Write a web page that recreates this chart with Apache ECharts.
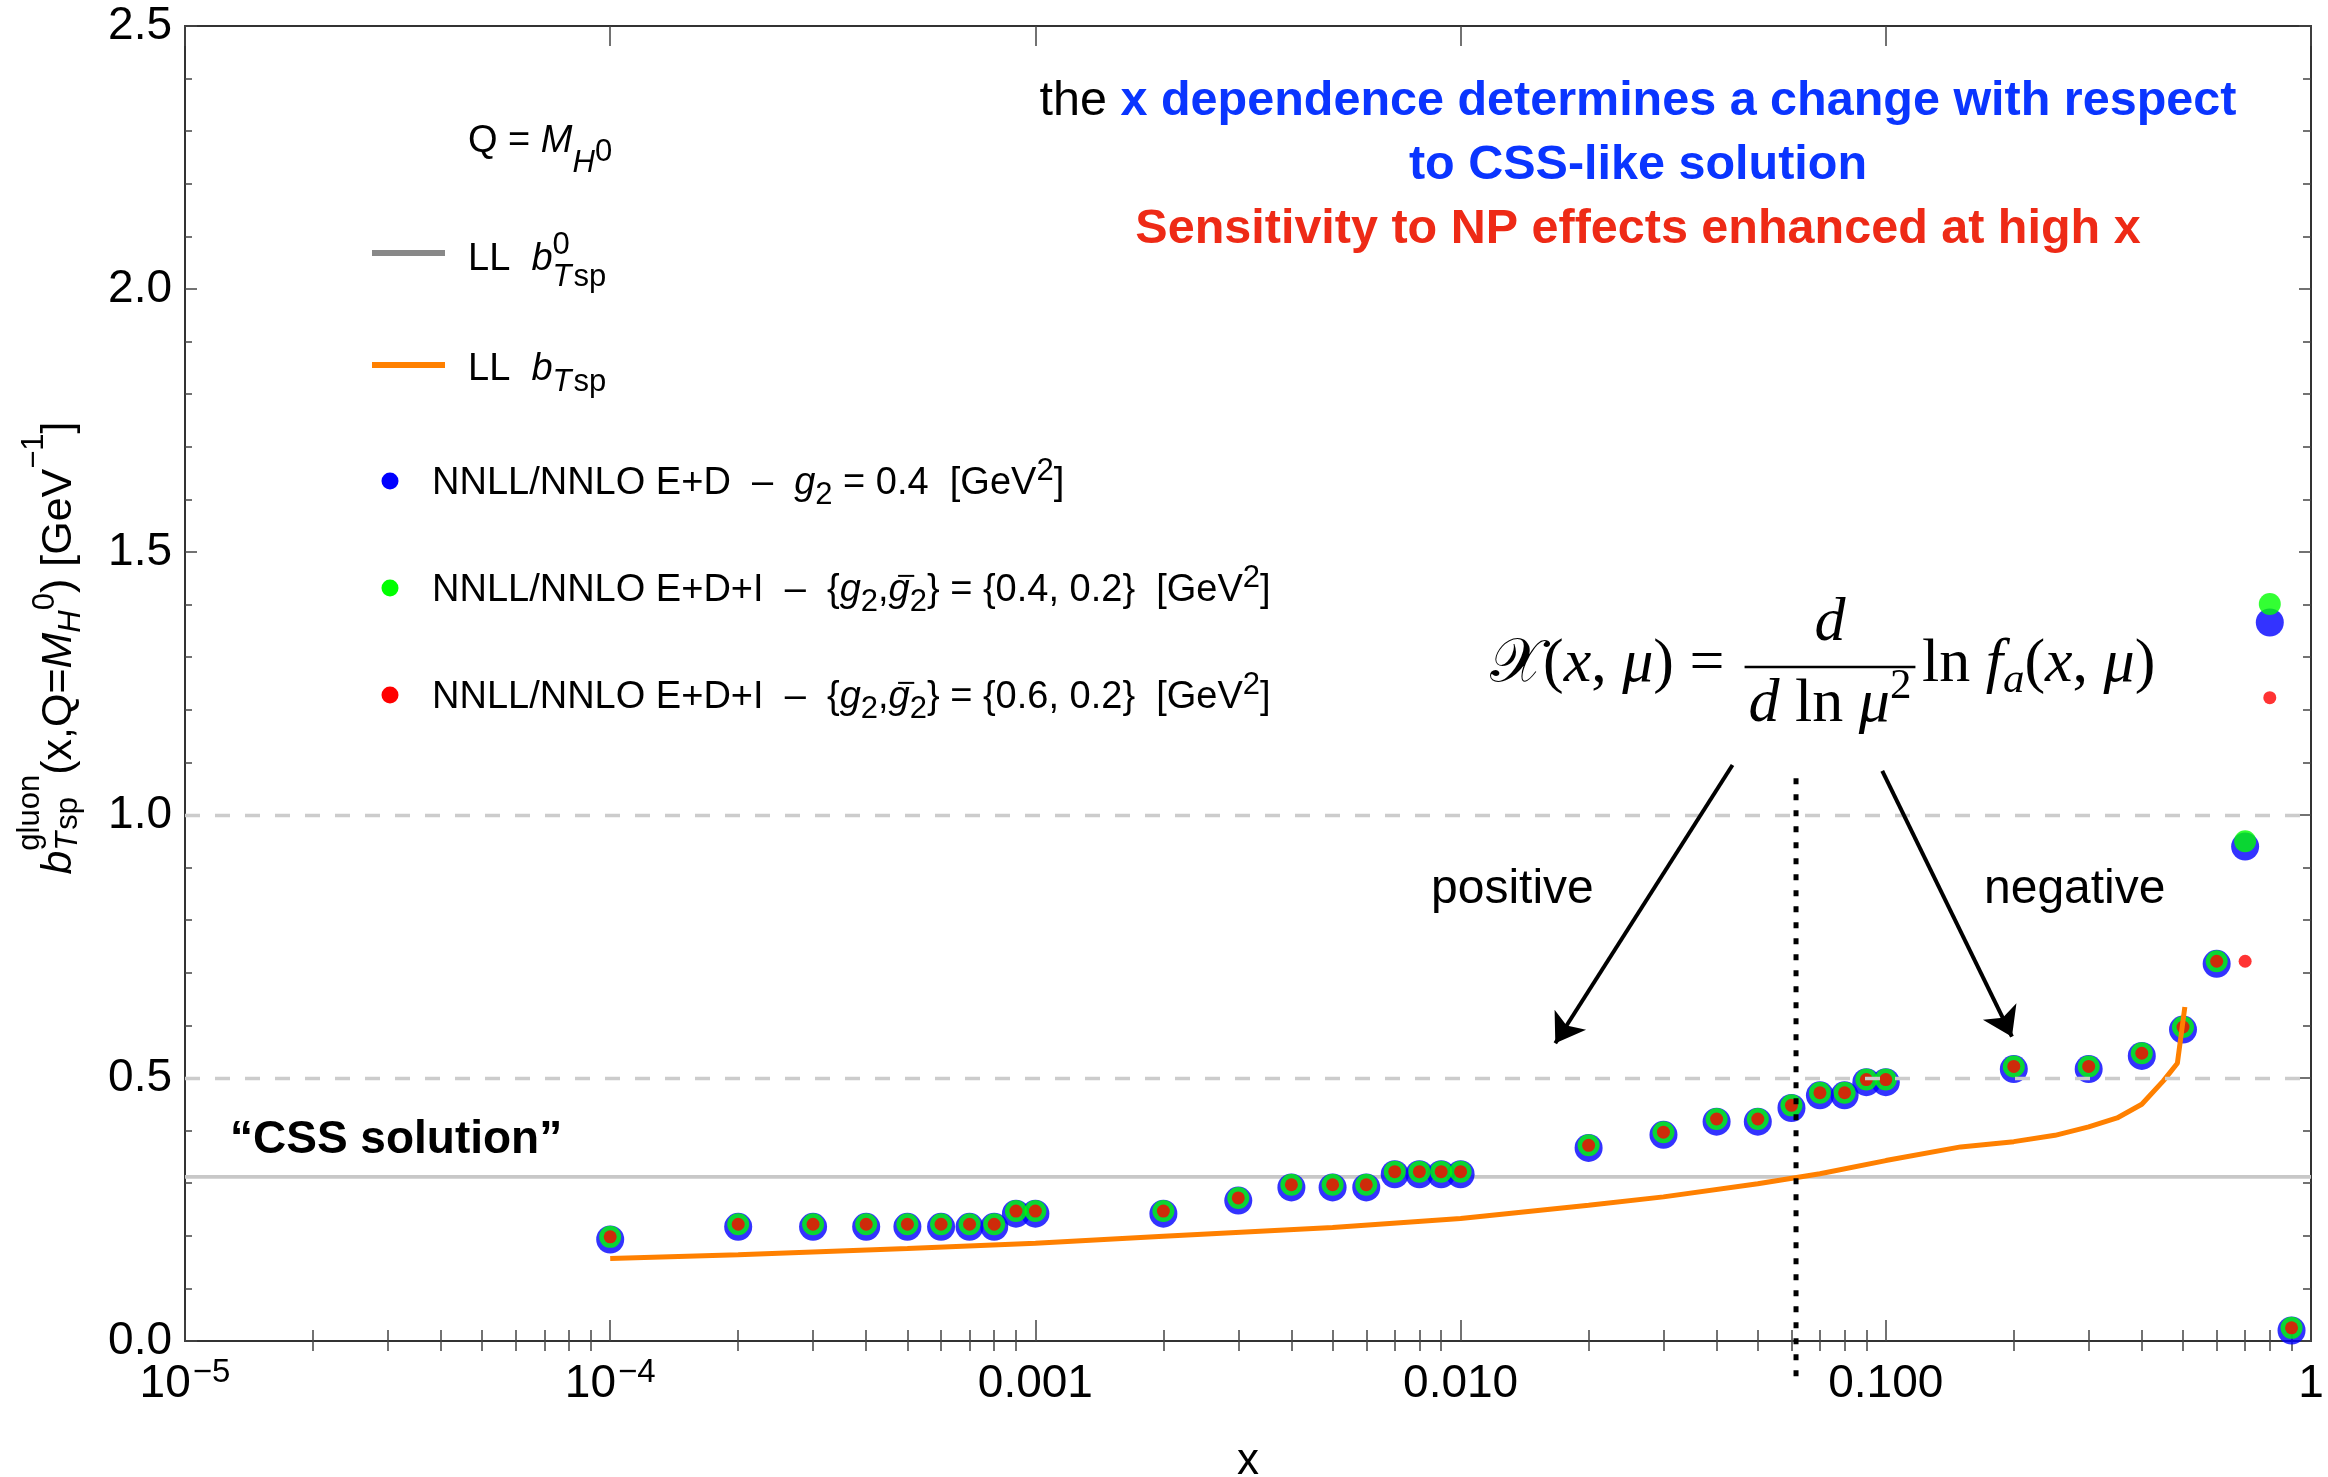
<!DOCTYPE html>
<html>
<head>
<meta charset="utf-8">
<title>b_Tsp gluon vs x</title>
<script src="https://cdn.jsdelivr.net/npm/echarts@6/dist/echarts.min.js"></script>
<style>
  html, body { margin: 0; padding: 0; background: #fff; }
  #chart { width: 2328px; height: 1477px; }
</style>
</head>
<body>
<div id="chart"></div>
<script>
// ---- data -------------------------------------------------------------
// x grid of the NNLL/NNLO evaluations
const xPoints = [1e-4, 2e-4, 3e-4, 4e-4, 5e-4, 6e-4, 7e-4, 8e-4, 9e-4,
                 1e-3, 2e-3, 3e-3, 4e-3, 5e-3, 6e-3, 7e-3, 8e-3, 9e-3,
                 0.01, 0.02, 0.03, 0.04, 0.05, 0.06, 0.07, 0.08, 0.09,
                 0.1, 0.2, 0.3, 0.4, 0.5, 0.6, 0.7, 0.8, 0.9];
// NNLL/NNLO E+D, g2 = 0.4
const bluePoints = [0.193, 0.217, 0.217, 0.217, 0.217, 0.217, 0.217, 0.217, 0.242,
                    0.242, 0.242, 0.267, 0.292, 0.292, 0.292, 0.317, 0.317, 0.317,
                    0.317, 0.367, 0.392, 0.417, 0.417, 0.443, 0.467, 0.467, 0.492,
                    0.492, 0.517, 0.517, 0.542, 0.592, 0.717, 0.940, 1.366, 0.020];
// NNLL/NNLO E+D+I, {g2, g2bar} = {0.4, 0.2}
const greenPoints = [0.198, 0.222, 0.222, 0.222, 0.222, 0.222, 0.222, 0.222, 0.247,
                     0.247, 0.247, 0.272, 0.297, 0.297, 0.297, 0.322, 0.322, 0.322,
                     0.322, 0.372, 0.397, 0.422, 0.422, 0.448, 0.472, 0.472, 0.497,
                     0.497, 0.522, 0.522, 0.547, 0.597, 0.722, 0.950, 1.401, 0.025];
// NNLL/NNLO E+D+I, {g2, g2bar} = {0.6, 0.2}
const redPoints = [0.198, 0.222, 0.222, 0.222, 0.222, 0.222, 0.222, 0.222, 0.247,
                   0.247, 0.247, 0.272, 0.297, 0.297, 0.297, 0.322, 0.322, 0.322,
                   0.322, 0.372, 0.397, 0.422, 0.422, 0.448, 0.472, 0.472, 0.497,
                   0.497, 0.522, 0.522, 0.547, 0.597, 0.722, 0.722, 1.223, 0.025];
// LL b_Tsp curve
const llX = [1e-4, 2e-4, 5e-4, 1e-3, 2e-3, 5e-3, 0.01, 0.02, 0.03, 0.05, 0.07,
             0.1, 0.15, 0.2, 0.25, 0.3, 0.35, 0.4, 0.45, 0.485, 0.505];
const llY = [0.157, 0.164, 0.176, 0.186, 0.199, 0.216, 0.233, 0.258, 0.274, 0.299, 0.318,
             0.343, 0.369, 0.379, 0.391, 0.407, 0.424, 0.450, 0.495, 0.528, 0.635];
// LL b0_Tsp ("CSS solution") level and reference levels
const cssValue = 0.312;
const refLevels = [0.5, 1.0];
// x where b_Tsp crosses b0_Tsp, and the vertical extent of its marker line
const crossX = 0.0615;
const crossSpan = [-0.08, 1.07];
// arrows: [start, tip] in data coordinates
const arrowPositive = [[0.0436, 1.095], [0.0167, 0.566]];
const arrowNegative = [[0.0981, 1.084], [0.198, 0.5785]];

// axis ticks
const xMajorTicks = [1e-5, 1e-4, 1e-3, 1e-2, 1e-1, 1];
const xTickLabels = ['10^\u22125', '10^\u22124', '0.001', '0.010', '0.100', '1'];
const xMinorTicks = [];
for (let e = -5; e < 0; e++) for (let m = 2; m <= 9; m++) xMinorTicks.push(m * Math.pow(10, e));
const yTickLabels = ['0.0', '0.5', '1.0', '1.5', '2.0', '2.5'];

// ---- styling helpers ---------------------------------------------------
const SANS = "'Liberation Sans', Arial, Helvetica, sans-serif";
const SERIF = "'Liberation Serif', 'Times New Roman', serif";
const BLUE_TXT = '#0a35ff';
const RED_TXT = '#ee2a16';

const mctx = document.createElement('canvas').getContext('2d');
function fontOf(r) { return (r.it ? 'italic ' : '') + (r.b ? 'bold ' : '') + r.s + 'px ' + r.f; }
function measure(r) { mctx.font = fontOf(r); return mctx.measureText(r.t).width; }

// Lays out a run of text pieces on a common baseline (with sub/superscripts).
function mathText(runs, opt) {
  const base = { s: opt.s || 37, f: opt.f || SANS, c: opt.c || '#000', b: !!opt.b, it: false };
  const items = [];
  let pen = 0;
  const put = (list, start) => {
    let w = 0;
    list.forEach(r0 => {
      const r = Object.assign({}, base, r0);
      w += r.gap || 0;
      const tw = measure(r);
      items.push({ r, x: start + w, w: tw });
      w += tw;
    });
    return w;
  };
  runs.forEach(r => {
    if (r.up || r.dn) {
      pen += Math.max(r.up ? put(r.up, pen) : 0, r.dn ? put(r.dn, pen) : 0);
    } else {
      pen += put([r], pen);
    }
  });
  const shift = opt.align === 'center' ? -pen / 2 : (opt.align === 'right' ? -pen : 0);
  const out = [];
  items.forEach(({ r, x, w }) => {
    const bx = opt.x + shift + x;
    const by = opt.y + (r.dy || 0);
    out.push({
      type: 'text', silent: true, z: 100,
      style: {
        text: r.t, x: bx, y: by - 0.345 * r.s, font: fontOf(r), fill: r.c,
        align: 'left', textAlign: 'left', verticalAlign: 'middle', textVerticalAlign: 'middle'
      }
    });
    if (r.bar) {
      out.push({
        type: 'line', silent: true, z: 100,
        shape: { x1: bx + 0.25 * r.s, y1: by - 0.74 * r.s, x2: bx + w + 0.12 * r.s, y2: by - 0.74 * r.s },
        style: { stroke: r.c, lineWidth: 2 }
      });
    }
  });
  out.width = pen;
  return out;
}

function fmtX(v) {
  const i = xMajorTicks.findIndex(t => Math.abs(Math.log10(t) - Math.log10(v)) < 1e-6);
  const s = i >= 0 ? xTickLabels[i] : '';
  const p = s.split('^');
  return p.length > 1 ? '{n|' + p[0] + '}{s|' + p[1] + '}' : '{n|' + s + '}';
}

const axisLineStyle = { color: '#333', width: 2 };
const tickStyle = { color: '#444', width: 1.5 };

function logAxis(extra) {
  return Object.assign({
    type: 'log', logBase: 10, min: 1e-5, max: 1,
    splitLine: { show: false }, minorTick: { show: false }, axisLabel: { show: false },
    axisLine: { show: false }
  }, extra);
}

// ---- chart ---------------------------------------------------------------
const chart = echarts.init(document.getElementById('chart'), null, { renderer: 'canvas' });

const option = {
  animation: false,
  backgroundColor: '#ffffff',
  grid: { left: 185, right: 17, top: 26, bottom: 136, containLabel: false, outerBoundsMode: 'none' },
  xAxis: [
    logAxis({
      position: 'bottom',
      axisLine: { show: true, onZero: false, lineStyle: axisLineStyle },
      axisTick: { show: true, inside: true, length: 21, customValues: xMajorTicks, lineStyle: tickStyle },
      axisLabel: {
        show: true, customValues: xMajorTicks, margin: 15, formatter: fmtX,
        rich: {
          n: { fontSize: 46, lineHeight: 56, fontFamily: SANS, color: '#000' },
          s: { fontSize: 33, lineHeight: 33, fontFamily: SANS, color: '#000', verticalAlign: 'top', padding: [0, 0, 0, 2] }
        }
      },
      name: 'x', nameLocation: 'middle', nameGap: 99,
      nameTextStyle: { fontSize: 44, fontFamily: SANS, color: '#000' }
    }),
    logAxis({
      position: 'bottom',
      axisTick: { show: true, inside: true, length: 11, customValues: xMinorTicks, lineStyle: tickStyle }
    }),
    logAxis({
      position: 'top',
      axisLine: { show: true, onZero: false, lineStyle: axisLineStyle },
      axisTick: { show: true, inside: true, length: 20, customValues: xMajorTicks, lineStyle: tickStyle }
    }),
    logAxis({
      position: 'top',
      axisTick: { show: true, inside: true, length: 10, customValues: xMinorTicks, lineStyle: tickStyle }
    })
  ],
  yAxis: [
    {
      type: 'value', min: 0, max: 2.5, interval: 0.5, position: 'left',
      axisLine: { show: true, onZero: false, lineStyle: axisLineStyle },
      axisTick: { show: true, inside: true, length: 12, lineStyle: tickStyle },
      minorTick: { show: true, splitNumber: 5, length: 7, lineStyle: tickStyle },
      axisLabel: {
        margin: 13, fontSize: 46, fontFamily: SANS, color: '#000', padding: [6, 0, 0, 0],
        formatter: v => yTickLabels[Math.round(v / 0.5)]
      },
      splitLine: { show: false }
    },
    {
      type: 'value', min: 0, max: 2.5, interval: 0.5, position: 'right',
      axisLine: { show: true, onZero: false, lineStyle: axisLineStyle },
      axisTick: { show: true, inside: true, length: 12, lineStyle: tickStyle },
      minorTick: { show: true, splitNumber: 5, length: 8, lineStyle: tickStyle },
      axisLabel: { show: false },
      splitLine: { show: false }
    }
  ],
  series: [
    {
      name: 'LL b0_Tsp', type: 'line', silent: true, z: 1,
      data: [[1e-5, cssValue], [1, cssValue]],
      symbol: 'none', lineStyle: { color: '#c8c8c8', width: 3.7 },
      markLine: {
        silent: true, symbol: 'none', label: { show: false },
        lineStyle: { color: '#cccccc', width: 3.3, type: [15, 15] },
        data: refLevels.map(v => ({ yAxis: v }))
      }
    },
    {
      name: 'NNLL/NNLO E+D', type: 'scatter', z: 2, symbol: 'circle', symbolSize: 28,
      itemStyle: { color: '#0000ff' },
      data: xPoints.map((x, i) => [x, bluePoints[i]])
    },
    {
      name: 'NNLL/NNLO E+D+I (0.4, 0.2)', type: 'scatter', z: 2, symbol: 'circle', symbolSize: 22,
      itemStyle: { color: '#00ff00' },
      data: xPoints.map((x, i) => [x, greenPoints[i]])
    },
    {
      name: 'NNLL/NNLO E+D+I (0.6, 0.2)', type: 'scatter', z: 2, symbol: 'circle', symbolSize: 13,
      itemStyle: { color: '#ff0000' },
      data: xPoints.map((x, i) => [x, redPoints[i]])
    },
    {
      name: 'LL b_Tsp', type: 'line', z: 3, symbol: 'none', silent: true,
      lineStyle: { color: '#ff8000', width: 5 },
      data: llX.map((x, i) => [x, llY[i]])
    },
    {
      name: 'crossing', type: 'line', z: 4, symbol: 'none', silent: true, clip: false,
      lineStyle: { color: '#000', width: 5, type: [6, 10] },
      data: [[crossX, crossSpan[1]], [crossX, crossSpan[0]]],
      markLine: {
        silent: true, symbol: ['none', 'arrow'], symbolSize: 28, label: { show: false },
        lineStyle: { color: '#000', width: 4, type: 'solid' },
        data: [
          [{ coord: arrowPositive[0] }, { coord: arrowPositive[1] }],
          [{ coord: arrowNegative[0] }, { coord: arrowNegative[1] }]
        ]
      }
    }
  ]
};

chart.setOption(option);

// ---- annotations, legend and axis title -----------------------------------
const g = [];
const add = arr => arr.forEach(e => g.push(e));

// headline notes
add(mathText([{ t: 'the ' }, { t: 'x dependence determines a change with respect', c: BLUE_TXT, b: true }],
  { x: 1638, y: 118, align: 'center', s: 48.5 }));
add(mathText([{ t: 'to CSS-like solution', c: BLUE_TXT, b: true }], { x: 1638, y: 182, align: 'center', s: 48.5 }));
add(mathText([{ t: 'Sensitivity to NP effects enhanced at high x', c: RED_TXT, b: true }],
  { x: 1638, y: 246, align: 'center', s: 48.5 }));

add(mathText([{ t: '\u201CCSS solution\u201D', b: true }], { x: 230, y: 1156, s: 46 }));
add(mathText([{ t: 'positive' }], { x: 1431, y: 906, s: 48 }));
add(mathText([{ t: 'negative' }], { x: 1984, y: 906, s: 48 }));

// formula X(x,mu) = d/dln mu^2 ln f_a(x,mu)
const FS = 62;
add(mathText([{ t: '\uD835\uDCB3' }, { t: '(' }, { t: 'x', it: true }, { t: ', ' }, { t: '\u03BC', it: true },
  { t: ')' }, { t: ' = ' }], { x: 1490, y: 686, s: FS, f: SERIF }));
const den = mathText([{ t: 'd', it: true }, { t: ' ln ' }, { t: '\u03BC', it: true }, { t: '2', s: 43, dy: -24 }],
  { x: 1830, y: 726, s: FS, f: SERIF, align: 'center' });
add(den);
add(mathText([{ t: 'd', it: true }], { x: 1830, y: 645, s: FS, f: SERIF, align: 'center' }));
g.push({ type: 'line', silent: true, z: 100,
  shape: { x1: 1830 - den.width / 2 - 4, y1: 667, x2: 1830 + den.width / 2 + 4, y2: 667 },
  style: { stroke: '#000', lineWidth: 2.5 } });
add(mathText([{ t: 'ln ' }, { t: 'f', it: true }, { t: 'a', it: true, s: 43, dy: 10 }, { t: '(' }, { t: 'x', it: true },
  { t: ', ' }, { t: '\u03BC', it: true }, { t: ')' }], { x: 1922, y: 686, s: FS, f: SERIF }));

// legend block
const LS = 38, SS = 31;
add(mathText([{ t: 'Q = ' }, { t: 'M', it: true }, { t: 'H', it: true, s: SS, dy: 19 }, { t: '0', s: SS, dy: 8 }],
  { x: 468, y: 155, s: LS }));

g.push({ type: 'line', silent: true, z: 100, shape: { x1: 372, y1: 253, x2: 445, y2: 253 },
  style: { stroke: '#888888', lineWidth: 6 } });
add(mathText([{ t: 'LL  ' }, { t: 'b', it: true },
  { up: [{ t: '0', s: SS, dy: -17 }], dn: [{ t: 'T', it: true, s: SS, dy: 15 }, { t: 'sp', s: SS, dy: 15, gap: 2 }] }],
  { x: 468, y: 273, s: LS }));

g.push({ type: 'line', silent: true, z: 100, shape: { x1: 372, y1: 365, x2: 445, y2: 365 },
  style: { stroke: '#ff8000', lineWidth: 6 } });
add(mathText([{ t: 'LL  ' }, { t: 'b', it: true }, { t: 'T', it: true, s: SS, dy: 10 }, { t: 'sp', s: SS, dy: 10, gap: 2 }],
  { x: 468, y: 383, s: LS }));

const legendDots = [['#0000ff', 481], ['#00ff00', 588], ['#ff0000', 695]];
legendDots.forEach(([c, y]) => g.push({ type: 'circle', silent: true, z: 100,
  shape: { cx: 390, cy: y, r: 8.5 }, style: { fill: c } }));

add(mathText([{ t: 'NNLL/NNLO E+D  \u2013  ' }, { t: 'g', it: true }, { t: '2', s: SS, dy: 9 },
  { t: ' = 0.4  [GeV' }, { t: '2', s: SS, dy: -15 }, { t: ']' }], { x: 432, y: 497, s: LS }));
const gPair = [{ t: '{' }, { t: 'g', it: true }, { t: '2', s: SS, dy: 9 }, { t: ',' },
  { t: 'g', it: true, bar: true }, { t: '2', s: SS, dy: 9 }];
add(mathText([{ t: 'NNLL/NNLO E+D+I  \u2013  ' }].concat(gPair,
  [{ t: '} = {0.4, 0.2}  [GeV' }, { t: '2', s: SS, dy: -15 }, { t: ']' }]), { x: 432, y: 604, s: LS }));
add(mathText([{ t: 'NNLL/NNLO E+D+I  \u2013  ' }].concat(gPair,
  [{ t: '} = {0.6, 0.2}  [GeV' }, { t: '2', s: SS, dy: -15 }, { t: ']' }]), { x: 432, y: 711, s: LS }));

// rotated y-axis title
const TS = 43, TSS = 31;
g.push({
  type: 'group', x: 74, y: 648, rotation: Math.PI / 2, silent: true,
  children: mathText([
    { t: 'b', it: true },
    { up: [{ t: 'gluon', s: TSS, dy: -33 }], dn: [{ t: 'T', it: true, s: TSS, dy: 5 }, { t: 'sp', s: TSS, dy: 5, gap: 2 }] },
    { t: '(x,Q=' }, { t: 'M', it: true }, { t: 'H', it: true, s: TSS, dy: 8 }, { t: '0', s: TSS, dy: -18 },
    { t: ') [GeV' }, { t: '\u22121', s: TSS, dy: -29 }, { t: ']' }
  ], { x: 0, y: 0, s: TS, align: 'center' })
});

chart.setOption({ graphic: { elements: g } });
</script>
</body>
</html>
